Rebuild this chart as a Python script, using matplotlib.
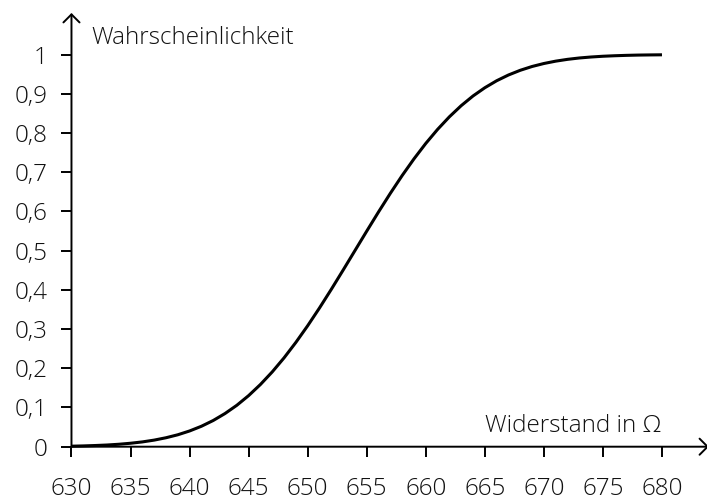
import matplotlib
matplotlib.use("Agg")
import matplotlib.pyplot as plt

resistance = list(range(630, 681))
probability = [
    0.0013, 0.0020, 0.0030, 0.0043, 0.0062, 0.0088, 0.0122, 0.0168, 0.0228, 0.0304,
    0.0401, 0.0521, 0.0668, 0.0846, 0.1056, 0.1303, 0.1587, 0.1908, 0.2266, 0.2660,
    0.3085, 0.3538, 0.4013, 0.4503, 0.5000, 0.5497, 0.5987, 0.6462, 0.6915, 0.7340,
    0.7734, 0.8092, 0.8413, 0.8697, 0.8944, 0.9154, 0.9332, 0.9479, 0.9599, 0.9696,
    0.9772, 0.9832, 0.9878, 0.9913, 0.9938, 0.9957, 0.9970, 0.9980, 0.9987, 0.9991,
    0.9994,
]
x_ticks = [630, 635, 640, 645, 650, 655, 660, 665, 670, 675, 680]
y_ticks = [0, 0.1, 0.2, 0.3, 0.4, 0.5, 0.6, 0.7, 0.8, 0.9, 1]
y_tick_labels = ["0", "0,1", "0,2", "0,3", "0,4", "0,5", "0,6", "0,7", "0,8", "0,9", "1"]
y_label = "Wahrscheinlichkeit"
x_label = "Widerstand in Ω"

plt.rcParams['font.family'] = ['Open Sans', 'DejaVu Sans']
plt.rcParams['font.weight'] = 'light'
FS_TICK = 17.5
FS_LABEL = 17.5

fig = plt.figure(figsize=(7.07, 5.0), dpi=100)
ax = fig.add_axes([0.1011, 0.1066, 0.9017, 0.8674])
ax.set_xlim(630, 683.98)
ax.set_ylim(0, 1.106)
for s in ax.spines.values():
    s.set_visible(False)

ax.plot(resistance, probability, color='black', lw=2.2, solid_capstyle='butt', clip_on=False)

ax.set_xticks(x_ticks)
ax.set_xticklabels([str(t) for t in x_ticks])
ax.set_yticks(y_ticks)
ax.set_yticklabels(y_tick_labels)
ax.tick_params(direction='out', length=7.5, width=1.4, color='black',
               labelsize=FS_TICK, labelcolor='#111111')
ax.tick_params(axis='x', pad=14.5)
ax.tick_params(axis='y', pad=9.5)

arrow = dict(arrowstyle='->,head_length=0.29,head_width=0.29', lw=1.4, color='black',
             shrinkA=0, shrinkB=0, mutation_scale=20)
ax.annotate('', xy=(0, 1), xytext=(0, 0), xycoords='axes fraction',
            textcoords='axes fraction', arrowprops=arrow, annotation_clip=False)
ax.annotate('', xy=(1, 0), xytext=(0, 0), xycoords='axes fraction',
            textcoords='axes fraction', arrowprops=arrow, annotation_clip=False)

ax.text(631.65, 1.026, y_label, fontsize=FS_LABEL, ha='left', va='baseline', color='#111111')
ax.text(665.0, 0.038, x_label, fontsize=FS_LABEL, ha='left', va='baseline', color='#111111')

fig.savefig('out.png', dpi=100)
